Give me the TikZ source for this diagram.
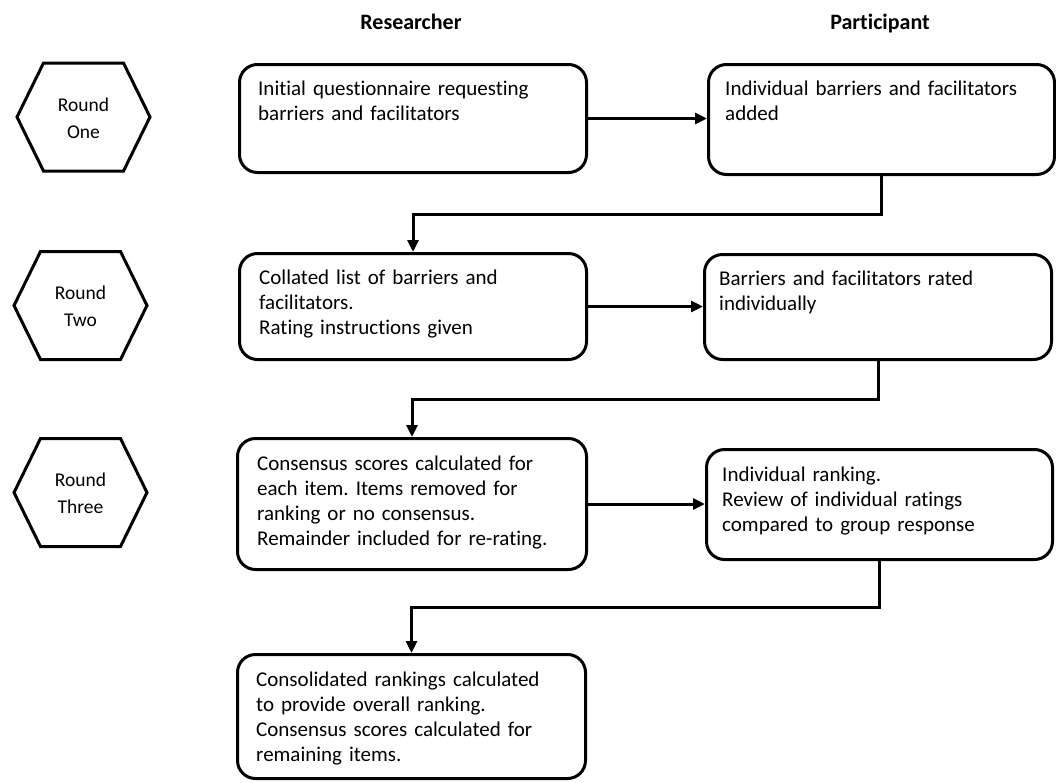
\documentclass[tikz,border=0pt]{standalone}
\usepackage{fontspec}
\setmainfont{Carlito}[Ligatures={NoCommon}]
\usetikzlibrary{arrows.meta,calc}
\frenchspacing
\begin{document}
\begin{tikzpicture}[x=1pt,y=-1pt,
  stepbox/.style={draw=black,line width=3pt,rounded corners=18pt,rectangle,anchor=north west,inner sep=0pt},
  boxtext/.style={anchor=base west,inner sep=0pt,align=left,text width=330pt,font=\fontsize{21}{25.3}\selectfont},
  header/.style={font=\fontsize{22}{26}\selectfont\bfseries,inner sep=0pt,anchor=base},
  hextext/.style={font=\fontsize{19.5}{27}\selectfont,align=center,inner sep=0pt},
  hexline/.style={draw=black,line width=3pt,line join=miter},
  arr/.style={draw=black,line width=3pt,-{Triangle[length=12pt,width=11pt]}}
]
\useasboundingbox (0,0) rectangle (1056,782);

% headers
\node[header] (hr) at (411,29) {Researcher};
\node[header] (hp) at (880,29) {Participant};

% hexagons
\foreach \nm/\cx/\cy/\txt in {h1/83.5/117/{Round\\One},h2/80.5/305.5/{Round\\Two},h3/80.5/492.5/{Round\\Three}}{
  \draw[hexline] (\cx-66.5,\cy) -- (\cx-40,\cy-54) -- (\cx+40,\cy-54) -- (\cx+66.5,\cy) -- (\cx+40,\cy+54) -- (\cx-40,\cy+54) -- cycle;
  \node[hextext] (\nm) at (\cx,\cy+1) {\txt};
}

% boxes
\node[stepbox,minimum width=347pt,minimum height=108pt] (r1) at (238,63) {};
\node[stepbox,minimum width=346pt,minimum height=110pt] (p1) at (707,63) {};
\node[stepbox,minimum width=347pt,minimum height=106pt] (r2) at (238,252) {};
\node[stepbox,minimum width=347pt,minimum height=105pt] (p2) at (703,253) {};
\node[stepbox,minimum width=349pt,minimum height=131pt] (r3) at (236,437) {};
\node[stepbox,minimum width=346pt,minimum height=110pt] (p3) at (705,448) {};
\node[stepbox,minimum width=348pt,minimum height=124pt] (r4) at (236,653) {};

% texts
\node[boxtext] (t1) at ($(r1.north west)+(20,32)$) {Initial questionnaire requesting\\barriers and facilitators};
\node[boxtext] (t2) at ($(p1.north west)+(18,32)$) {Individual barriers and facilitators\\added};
\node[boxtext] (t3) at ($(r2.north west)+(21,32)$) {Collated list of barriers and\\facilitators.\\Rating instructions given};
\node[boxtext] (t4) at ($(p2.north west)+(16,32)$) {Barriers and facilitators rated\\individually};
\node[boxtext] (t5) at ($(r3.north west)+(21,33)$) {Consensus scores calculated for\\each item. Items removed for\\ranking or no consensus.\\Remainder included for re-rating.};
\node[boxtext] (t6) at ($(p3.north west)+(17,33)$) {Individual ranking.\\Review of individual ratings\\compared to group response};
\node[boxtext] (t7) at ($(r4.north west)+(20,33)$) {Consolidated rankings calculated\\to provide overall ranking.\\Consensus scores calculated for\\remaining items.};

% connectors
\draw[arr] (r1.east) -- (r1.east -| p1.west);
\draw[arr] (r2.east) -- (r2.east -| p2.west);
\draw[arr] (r3.east) -- (r3.east -| p3.west);
\draw[arr] (p1.south) |- ($(p1.south)!0.5!(r2.north)$) -| (r2.north);
\draw[arr] (p2.south) |- ($(p2.south)!0.5!(r3.north)$) -| (r3.north);
\draw[arr] (p3.south) |- ($(p3.south)!0.5!(r4.north)$) -| (r4.north);
\end{tikzpicture}
\end{document}
